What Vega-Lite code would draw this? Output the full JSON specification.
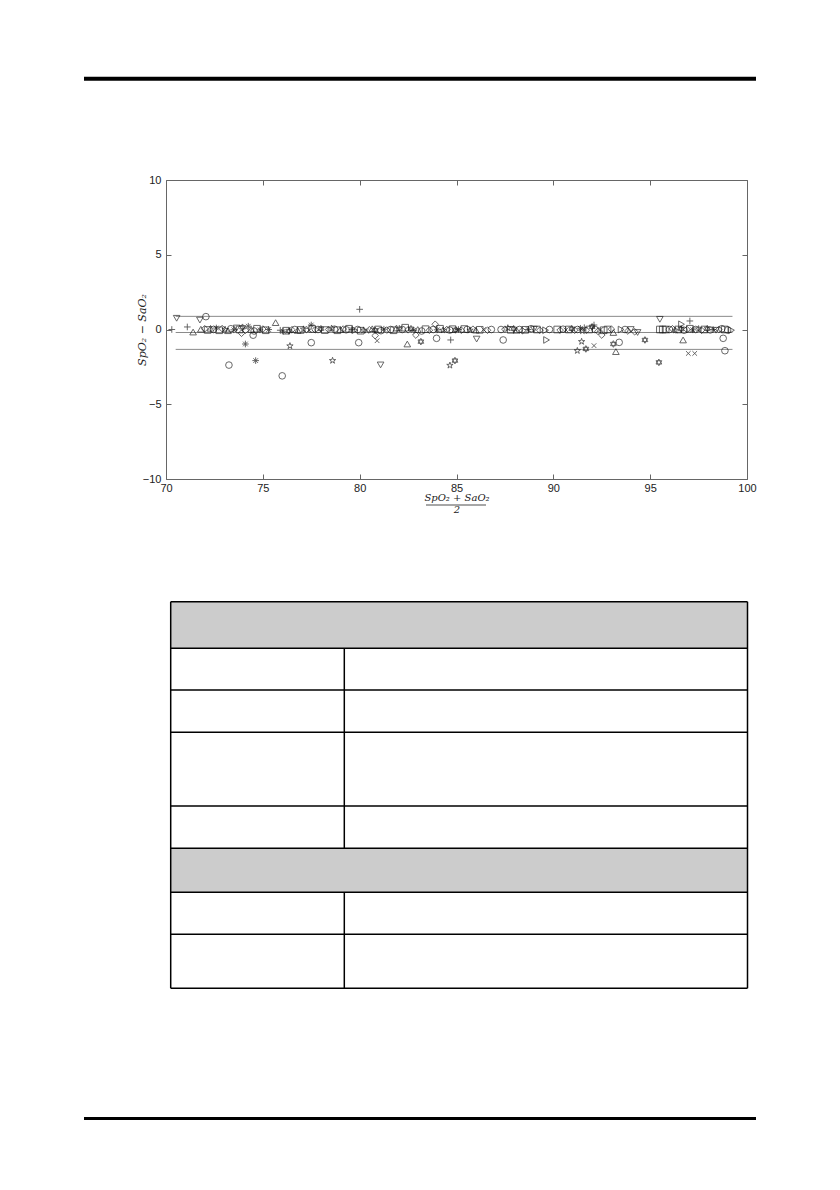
{
  "$schema": "https://vega.github.io/schema/vega-lite/v6.json",
  "description": "Bland-Altman plot of SpO2 against SaO2, with an empty specification table below",
  "padding": 0,
  "autosize": {"type": "pad"},
  "bounds": "flush",
  "spacing": 0,
  "background": "white",
  "config": {"view": {"stroke": null}},
  "vconcat": [
    {
      "width": 581,
      "height": 180,
      "layer": [
        {
          "data": {"values": [{"x": 0, "x2": 840, "y": 0, "y2": 1190}]},
          "mark": {"type": "rect", "opacity": 0},
          "encoding": {
            "x": {"field": "x", "type": "quantitative", "scale": {"domain": [166, 747], "nice": false, "zero": false}, "axis": null},
            "x2": {"field": "x2"},
            "y": {"field": "y", "type": "quantitative", "scale": {"domain": [0, 180], "nice": false, "zero": false, "reverse": true}, "axis": null},
            "y2": {"field": "y2"}
          }
        },
        {
          "data": {"values": [{"x": 84, "x2": 756, "y": 78.7}]},
          "mark": {"type": "rule", "color": "black", "strokeWidth": 4},
          "encoding": {
            "x": {"field": "x", "type": "quantitative"},
            "x2": {"field": "x2"},
            "y": {"field": "y", "type": "quantitative"}
          }
        }
      ]
    },
    {
      "width": 581,
      "height": 299,
      "resolve": {"axis": {"x": "independent", "y": "independent"}},
      "layer": [
        {
          "data": {"values": [
            {"x0": 70.5, "x1": 99.25, "d": 0.88},
            {"x0": 70.5, "x1": 99.25, "d": -0.2},
            {"x0": 70.5, "x1": 99.25, "d": -1.33}
          ]},
          "mark": {"type": "rule", "color": "#8a8a8a", "strokeWidth": 1},
          "encoding": {
            "x": {
              "field": "x0", "type": "quantitative",
              "scale": {"domain": [70, 100], "nice": false, "zero": false},
              "axis": {
                "orient": "bottom", "values": [70, 75, 80, 85, 90, 95, 100],
                "ticks": false, "labelPadding": 3, "grid": false, "labelFlush": false, "labelOverlap": false,
                "domainColor": "#666", "labelColor": "#222",
                "labelFont": "Liberation Sans", "labelFontSize": 11,
                "title": ["SpO₂ + SaO₂", "2"], "titleFont": "DejaVu Serif", "titleFontStyle": "italic",
                "titleFontWeight": "normal", "titleFontSize": 10, "titleLineHeight": 12,
                "titlePadding": -1, "titleColor": "#222"
              }
            },
            "x2": {"field": "x1"},
            "y": {
              "field": "d", "type": "quantitative",
              "scale": {"domain": [-10, 10], "nice": false, "zero": false},
              "axis": {
                "orient": "left", "values": [-10, -5, 0, 5, 10],
                "ticks": false, "labelPadding": 5, "grid": false, "labelOverlap": false, "labelFlush": false,
                "domainColor": "#666", "labelColor": "#222",
                "labelFont": "Liberation Sans", "labelFontSize": 11,
                "title": "SpO₂ − SaO₂", "titleFont": "DejaVu Serif", "titleFontStyle": "italic",
                "titleFontWeight": "normal", "titleFontSize": 11, "titlePadding": -5, "titleColor": "#222"
              }
            }
          }
        },
        {
          "data": {"values": [
            {"x0": 70, "d": 0}
          ]},
          "mark": {"type": "point", "opacity": 0},
          "encoding": {
            "x": {
              "field": "x0", "type": "quantitative",
              "axis": {"orient": "bottom", "values": [70, 75, 80, 85, 90, 95, 100], "tickSize": -5, "labels": false, "domain": false, "title": null, "grid": false, "tickColor": "#666"}
            },
            "y": {
              "field": "d", "type": "quantitative",
              "axis": {"orient": "left", "values": [-10, -5, 0, 5, 10], "tickSize": -5, "labels": false, "domain": false, "title": null, "grid": false, "tickColor": "#666"}
            }
          }
        },
        {
          "data": {"values": [
            {"a": 70.55, "d": 0.75, "m": "v"}, {"a": 70.3, "d": 0.0, "m": "+"}, {"a": 71.1, "d": 0.17, "m": "+"},
            {"a": 71.4, "d": -0.17, "m": "^"}, {"a": 71.75, "d": 0.63, "m": "v"}, {"a": 72.06, "d": 0.86, "m": "o"},
            {"a": 73.9, "d": -0.25, "m": "d"}, {"a": 74.5, "d": -0.38, "m": "o"}, {"a": 74.1, "d": -0.97, "m": "*"},
            {"a": 73.25, "d": -2.38, "m": "o"}, {"a": 74.63, "d": -2.08, "m": "*"}, {"a": 75.66, "d": 0.46, "m": "^"},
            {"a": 76.0, "d": -3.1, "m": "o"}, {"a": 76.4, "d": -1.1, "m": "p"}, {"a": 77.5, "d": -0.88, "m": "o"},
            {"a": 77.5, "d": 0.3, "m": "*"}, {"a": 78.6, "d": -2.08, "m": "p"}, {"a": 79.95, "d": -0.88, "m": "o"},
            {"a": 80.0, "d": 1.35, "m": "+"}, {"a": 80.8, "d": -0.41, "m": "d"}, {"a": 80.9, "d": -0.75, "m": "x"},
            {"a": 81.08, "d": -2.37, "m": "v"}, {"a": 82.46, "d": -0.97, "m": "^"}, {"a": 83.16, "d": -0.81, "m": "h"},
            {"a": 82.9, "d": -0.37, "m": "d"}, {"a": 83.9, "d": 0.35, "m": "d"}, {"a": 83.97, "d": -0.59, "m": "o"},
            {"a": 84.7, "d": -0.7, "m": "+"}, {"a": 84.66, "d": -2.4, "m": "p"}, {"a": 84.92, "d": -2.08, "m": "h"},
            {"a": 86.04, "d": -0.64, "m": "v"}, {"a": 87.41, "d": -0.7, "m": "o"}, {"a": 89.65, "d": -0.7, "m": ">"},
            {"a": 91.46, "d": -0.81, "m": "p"}, {"a": 91.24, "d": -1.42, "m": "p"}, {"a": 91.68, "d": -1.3, "m": "h"},
            {"a": 92.1, "d": -1.08, "m": "x"}, {"a": 92.1, "d": 0.3, "m": "+"}, {"a": 92.5, "d": -0.37, "m": "d"},
            {"a": 93.1, "d": -0.97, "m": "h"}, {"a": 93.4, "d": -0.86, "m": "o"}, {"a": 93.23, "d": -1.48, "m": "^"},
            {"a": 93.1, "d": -0.2, "m": "^"}, {"a": 93.5, "d": 0.0, "m": ">"}, {"a": 94.73, "d": -0.7, "m": "h"},
            {"a": 95.5, "d": 0.68, "m": "v"}, {"a": 95.45, "d": -2.2, "m": "h"}, {"a": 96.62, "d": 0.35, "m": ">"},
            {"a": 97.05, "d": 0.57, "m": "+"}, {"a": 96.7, "d": -0.7, "m": "^"}, {"a": 96.97, "d": -1.6, "m": "x"},
            {"a": 97.3, "d": -1.6, "m": "x"}, {"a": 98.77, "d": -0.59, "m": "o"}, {"a": 98.86, "d": -1.42, "m": "o"},
            {"a": 71.8, "d": 0.02, "m": "^"}, {"a": 72.0, "d": 0.05, "m": "d"}, {"a": 72.15, "d": -0.03, "m": "s"},
            {"a": 72.3, "d": 0.08, "m": "^"}, {"a": 72.45, "d": 0.0, "m": "o"}, {"a": 72.6, "d": 0.1, "m": "*"},
            {"a": 72.75, "d": -0.05, "m": "s"}, {"a": 72.9, "d": 0.06, "m": "d"}, {"a": 73.05, "d": 0.0, "m": "p"},
            {"a": 73.2, "d": -0.08, "m": "^"}, {"a": 73.35, "d": 0.05, "m": "o"}, {"a": 73.5, "d": -0.02, "m": "*"},
            {"a": 73.65, "d": 0.1, "m": "v"}, {"a": 73.8, "d": 0.0, "m": "s"}, {"a": 73.95, "d": 0.15, "m": "h"},
            {"a": 74.1, "d": -0.05, "m": "d"}, {"a": 74.25, "d": 0.22, "m": "*"}, {"a": 74.4, "d": 0.0, "m": "^"},
            {"a": 74.55, "d": -0.1, "m": "o"}, {"a": 74.7, "d": 0.05, "m": "s"}, {"a": 74.85, "d": -0.02, "m": "*"},
            {"a": 75.0, "d": 0.03, "m": "d"}, {"a": 75.15, "d": -0.05, "m": "s"}, {"a": 75.3, "d": 0.0, "m": "*"},
            {"a": 75.9, "d": -0.05, "m": "+"}, {"a": 76.05, "d": -0.12, "m": "*"}, {"a": 76.2, "d": -0.08, "m": "s"},
            {"a": 76.35, "d": -0.1, "m": "h"}, {"a": 76.5, "d": -0.02, "m": "d"}, {"a": 76.65, "d": 0.0, "m": "o"},
            {"a": 76.8, "d": -0.06, "m": "^"}, {"a": 76.95, "d": -0.03, "m": "s"}, {"a": 77.1, "d": 0.02, "m": "p"},
            {"a": 77.25, "d": 0.0, "m": "d"}, {"a": 77.4, "d": -0.05, "m": "x"}, {"a": 77.55, "d": 0.04, "m": "s"},
            {"a": 77.7, "d": -0.02, "m": "d"}, {"a": 77.85, "d": 0.0, "m": "o"}, {"a": 78.0, "d": 0.05, "m": "h"},
            {"a": 78.2, "d": -0.04, "m": "s"}, {"a": 78.4, "d": 0.0, "m": "d"}, {"a": 78.55, "d": 0.08, "m": "p"},
            {"a": 78.7, "d": 0.02, "m": "o"}, {"a": 78.85, "d": -0.05, "m": "s"}, {"a": 79.0, "d": 0.0, "m": "^"},
            {"a": 79.15, "d": 0.03, "m": "d"}, {"a": 79.3, "d": -0.02, "m": "o"}, {"a": 79.45, "d": 0.05, "m": "s"},
            {"a": 79.6, "d": 0.0, "m": "*"}, {"a": 79.75, "d": -0.05, "m": ">"}, {"a": 79.9, "d": 0.0, "m": "o"},
            {"a": 80.05, "d": -0.08, "m": "s"}, {"a": 80.2, "d": -0.05, "m": "p"}, {"a": 80.35, "d": -0.1, "m": "x"},
            {"a": 80.5, "d": -0.02, "m": "d"}, {"a": 80.65, "d": 0.05, "m": "^"}, {"a": 80.8, "d": -0.05, "m": "h"},
            {"a": 80.95, "d": 0.0, "m": "s"}, {"a": 81.1, "d": -0.08, "m": "o"}, {"a": 81.25, "d": 0.02, "m": "*"},
            {"a": 81.4, "d": -0.04, "m": "d"}, {"a": 81.6, "d": 0.0, "m": "o"}, {"a": 81.75, "d": -0.05, "m": "s"},
            {"a": 81.9, "d": 0.1, "m": "^"}, {"a": 82.05, "d": 0.05, "m": "p"}, {"a": 82.2, "d": 0.0, "m": "o"},
            {"a": 82.35, "d": 0.12, "m": "s"}, {"a": 82.5, "d": -0.02, "m": "d"}, {"a": 82.65, "d": 0.05, "m": "h"},
            {"a": 82.8, "d": -0.05, "m": "*"}, {"a": 83.0, "d": 0.0, "m": "^"}, {"a": 83.2, "d": -0.1, "m": "o"},
            {"a": 83.4, "d": 0.02, "m": "s"}, {"a": 83.6, "d": -0.05, "m": "d"}, {"a": 83.8, "d": 0.0, "m": "o"},
            {"a": 84.0, "d": -0.02, "m": "*"}, {"a": 84.15, "d": 0.05, "m": "s"}, {"a": 84.3, "d": -0.05, "m": "p"},
            {"a": 84.5, "d": 0.0, "m": "d"}, {"a": 84.65, "d": -0.04, "m": "o"}, {"a": 84.8, "d": 0.02, "m": "s"},
            {"a": 84.95, "d": -0.03, "m": "h"}, {"a": 85.1, "d": 0.0, "m": "*"}, {"a": 85.25, "d": -0.05, "m": "d"},
            {"a": 85.4, "d": 0.03, "m": "s"}, {"a": 85.55, "d": 0.0, "m": "o"}, {"a": 85.7, "d": -0.05, "m": "p"},
            {"a": 85.85, "d": 0.02, "m": "d"}, {"a": 86.0, "d": -0.04, "m": "^"}, {"a": 86.2, "d": -0.02, "m": "s"},
            {"a": 86.4, "d": 0.0, "m": "x"}, {"a": 86.6, "d": -0.05, "m": "d"}, {"a": 86.8, "d": 0.0, "m": "o"},
            {"a": 87.3, "d": 0.0, "m": "o"}, {"a": 87.5, "d": 0.02, "m": "d"}, {"a": 87.65, "d": 0.1, "m": "p"},
            {"a": 87.8, "d": -0.02, "m": "s"}, {"a": 87.95, "d": 0.05, "m": "h"}, {"a": 88.1, "d": -0.05, "m": "^"},
            {"a": 88.25, "d": 0.0, "m": "o"}, {"a": 88.4, "d": -0.08, "m": "d"}, {"a": 88.55, "d": -0.02, "m": "s"},
            {"a": 88.7, "d": 0.0, "m": "*"}, {"a": 88.85, "d": 0.05, "m": "o"}, {"a": 89.0, "d": 0.02, "m": "v"},
            {"a": 89.15, "d": 0.0, "m": "s"}, {"a": 89.3, "d": -0.05, "m": "d"}, {"a": 89.6, "d": -0.05, "m": ">"},
            {"a": 89.8, "d": 0.0, "m": "o"}, {"a": 90.2, "d": 0.0, "m": "s"}, {"a": 90.35, "d": -0.04, "m": "d"},
            {"a": 90.5, "d": 0.02, "m": "o"}, {"a": 90.65, "d": -0.03, "m": "x"}, {"a": 90.8, "d": 0.0, "m": "s"},
            {"a": 90.95, "d": 0.05, "m": "h"}, {"a": 91.1, "d": -0.05, "m": "d"}, {"a": 91.25, "d": 0.0, "m": "o"},
            {"a": 91.4, "d": 0.08, "m": "*"}, {"a": 91.5, "d": -0.1, "m": "p"}, {"a": 91.6, "d": 0.12, "m": "+"},
            {"a": 91.7, "d": -0.05, "m": "d"}, {"a": 91.85, "d": 0.0, "m": "s"}, {"a": 92.0, "d": 0.18, "m": "h"},
            {"a": 92.15, "d": 0.0, "m": "o"}, {"a": 92.3, "d": -0.12, "m": "d"}, {"a": 92.45, "d": 0.0, "m": "x"},
            {"a": 92.6, "d": -0.05, "m": "s"}, {"a": 92.8, "d": 0.0, "m": "s"}, {"a": 93.0, "d": 0.02, "m": "d"},
            {"a": 93.7, "d": 0.0, "m": "o"}, {"a": 93.85, "d": -0.1, "m": "d"}, {"a": 94.0, "d": 0.0, "m": "v"},
            {"a": 94.2, "d": -0.15, "m": "d"}, {"a": 94.35, "d": -0.2, "m": "v"}, {"a": 95.5, "d": 0.0, "m": "s"},
            {"a": 95.65, "d": 0.0, "m": "s"}, {"a": 95.8, "d": 0.0, "m": "s"}, {"a": 96.0, "d": 0.0, "m": "o"},
            {"a": 96.15, "d": 0.05, "m": "d"}, {"a": 96.3, "d": -0.05, "m": "p"}, {"a": 96.45, "d": 0.0, "m": "s"},
            {"a": 96.6, "d": 0.03, "m": "h"}, {"a": 96.75, "d": -0.05, "m": "o"}, {"a": 96.9, "d": 0.0, "m": "d"},
            {"a": 97.05, "d": 0.05, "m": "s"}, {"a": 97.2, "d": -0.02, "m": "*"}, {"a": 97.35, "d": 0.0, "m": "o"},
            {"a": 97.5, "d": 0.04, "m": "p"}, {"a": 97.65, "d": -0.05, "m": "d"}, {"a": 97.8, "d": 0.0, "m": "s"},
            {"a": 97.95, "d": 0.05, "m": "h"}, {"a": 98.1, "d": -0.03, "m": "o"}, {"a": 98.25, "d": 0.0, "m": "*"},
            {"a": 98.4, "d": -0.05, "m": "v"}, {"a": 98.55, "d": 0.0, "m": "d"}, {"a": 98.7, "d": 0.05, "m": "o"},
            {"a": 98.85, "d": 0.0, "m": "s"}, {"a": 99.0, "d": -0.03, "m": "o"}, {"a": 99.2, "d": -0.05, "m": ">"}
          ]},
          "mark": {"type": "point", "filled": false, "size": 44, "strokeWidth": 0.9, "color": "#111"},
          "encoding": {
            "x": {
              "field": "a", "type": "quantitative",
              "axis": {"orient": "top", "values": [70, 75, 80, 85, 90, 95, 100], "tickSize": -5, "labels": false, "title": null, "grid": false, "domainColor": "#666", "tickColor": "#666"}
            },
            "y": {
              "field": "d", "type": "quantitative",
              "axis": {"orient": "right", "values": [-10, -5, 0, 5, 10], "tickSize": -5, "labels": false, "title": null, "grid": false, "domainColor": "#666", "tickColor": "#666"}
            },
            "shape": {
              "field": "m", "type": "nominal", "legend": null,
              "scale": {
                "domain": ["o", "s", "d", "^", "v", ">", "<", "p", "h", "+", "x", "*"],
                "range": [
                  "circle", "square", "diamond", "triangle-up", "triangle-down", "triangle-right", "triangle-left",
                  "M0,-1L0.225,-0.309L0.951,-0.309L0.363,0.118L0.588,0.809L0,0.382L-0.588,0.809L-0.363,0.118L-0.951,-0.309L-0.225,-0.309Z",
                  "M0,-1L0.866,0.5L-0.866,0.5ZM0,1L0.866,-0.5L-0.866,-0.5Z",
                  "M-1,0L1,0M0,-1L0,1",
                  "M-0.7,-0.7L0.7,0.7M-0.7,0.7L0.7,-0.7",
                  "M-1,0L1,0M0,-1L0,1M-0.7,-0.7L0.7,0.7M-0.7,0.7L0.7,-0.7"
                ]
              }
            }
          }
        }
      ]
    },
    {
      "width": 581,
      "height": 711,
      "layer": [
        {
          "data": {"values": [
            {"x": 170.7, "x2": 747.5, "y": 601.7, "y2": 648.3},
            {"x": 170.7, "x2": 747.5, "y": 848.3, "y2": 892.3}
          ]},
          "mark": {"type": "rect", "color": "#cccccc"},
          "encoding": {
            "x": {"field": "x", "type": "quantitative", "scale": {"domain": [166, 747], "nice": false, "zero": false}, "axis": null},
            "x2": {"field": "x2"},
            "y": {"field": "y", "type": "quantitative", "scale": {"domain": [479, 1190], "nice": false, "zero": false, "reverse": true}, "axis": null},
            "y2": {"field": "y2"}
          }
        },
        {
          "data": {"values": [
            {"x": 170.7, "x2": 747.5, "y": 601.7, "y2": 601.7, "w": 1.5},
            {"x": 170.7, "x2": 747.5, "y": 648.3, "y2": 648.3, "w": 1.5},
            {"x": 170.7, "x2": 747.5, "y": 690, "y2": 690, "w": 1.5},
            {"x": 170.7, "x2": 747.5, "y": 732.3, "y2": 732.3, "w": 1.5},
            {"x": 170.7, "x2": 747.5, "y": 806, "y2": 806, "w": 1.5},
            {"x": 170.7, "x2": 747.5, "y": 848.3, "y2": 848.3, "w": 1.5},
            {"x": 170.7, "x2": 747.5, "y": 892.3, "y2": 892.3, "w": 1.5},
            {"x": 170.7, "x2": 747.5, "y": 934.3, "y2": 934.3, "w": 1.5},
            {"x": 170.7, "x2": 747.5, "y": 988.3, "y2": 988.3, "w": 1.5},
            {"x": 170.7, "x2": 170.7, "y": 601.7, "y2": 988.3, "w": 1.5},
            {"x": 747.5, "x2": 747.5, "y": 601.7, "y2": 988.3, "w": 1.5},
            {"x": 344.3, "x2": 344.3, "y": 648.3, "y2": 848.3, "w": 1.5},
            {"x": 344.3, "x2": 344.3, "y": 892.3, "y2": 988.3, "w": 1.5},
            {"x": 84, "x2": 756, "y": 1118.5, "y2": 1118.5, "w": 3},
            {"x": 426, "x2": 486, "y": 505, "y2": 505, "w": 0.7}
          ]},
          "mark": {"type": "rule", "color": "black"},
          "encoding": {
            "x": {"field": "x", "type": "quantitative"},
            "x2": {"field": "x2"},
            "y": {"field": "y", "type": "quantitative"},
            "y2": {"field": "y2"},
            "strokeWidth": {"field": "w", "type": "quantitative", "scale": null}
          }
        },
        {
          "data": {"values": [{"x": 0, "x2": 840, "y": 479, "y2": 1190}]},
          "mark": {"type": "rect", "opacity": 0},
          "encoding": {
            "x": {"field": "x", "type": "quantitative"},
            "x2": {"field": "x2"},
            "y": {"field": "y", "type": "quantitative"},
            "y2": {"field": "y2"}
          }
        }
      ]
    }
  ]
}
